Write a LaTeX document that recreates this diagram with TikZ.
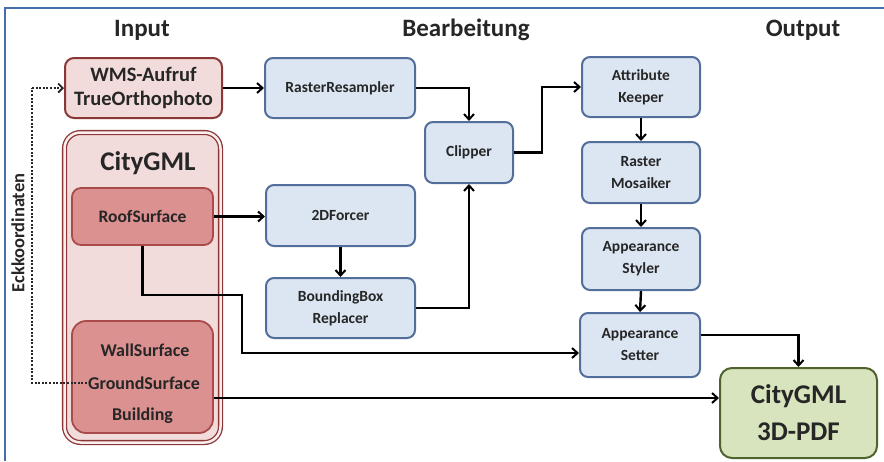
\documentclass[tikz,border=0pt]{standalone}
\usepackage{fontspec}
\setmainfont{Carlito}
\usetikzlibrary{arrows.meta,calc}
\definecolor{fillblue}{RGB}{220,230,242}
\definecolor{boxblue}{RGB}{84,110,155}
\definecolor{pinkfill}{RGB}{242,220,219}
\definecolor{darkred}{RGB}{140,55,55}
\definecolor{rooffill}{RGB}{220,145,145}
\definecolor{roofdraw}{RGB}{170,75,75}
\definecolor{greenfill}{RGB}{215,228,189}
\definecolor{greendraw}{RGB}{80,98,45}
\definecolor{txt}{RGB}{38,38,38}
\definecolor{framecol}{RGB}{70,110,170}
\begin{document}
\begin{tikzpicture}[x=1pt,y=-1pt,
  bluebox/.style={draw=boxblue,fill=fillblue,line width=2pt,rounded corners=8pt,align=center,inner sep=0pt,text=txt,font=\bfseries\fontsize{15.5}{22}\selectfont},
  pinkbox/.style={draw=darkred,fill=pinkfill,line width=2pt,rounded corners=9pt,align=center,inner sep=0pt,text=txt,font=\bfseries\fontsize{20.5}{24}\selectfont},
  roofbox/.style={draw=roofdraw,fill=rooffill,line width=1.8pt,rounded corners=9pt,align=center,inner sep=0pt,text=txt,font=\bfseries\fontsize{17.5}{20}\selectfont},
  lbl/.style={text=txt,font=\bfseries\fontsize{18}{20}\selectfont,inner sep=1pt},
  title/.style={text=txt,font=\bfseries\fontsize{25}{28}\selectfont},
  arr/.style={draw=black,line width=2.4pt,-{Straight Barb[length=5.5pt,width=10pt,line width=2pt]}},
  dotline/.style={draw=txt,line width=2pt,dash pattern=on 2pt off 1.6pt}
]
\useasboundingbox (0,0) rectangle (884,461);
\draw[framecol,line width=1.2pt] (5,461) -- (5,8) -- (884,8);

\node[title] (tin) at (142,30) {Input};
\node[title] (tbe) at (466,30) {Bearbeitung};
\node[title] (tout) at (803,30) {Output};

% input
\node[pinkbox,minimum width=157pt,minimum height=60pt] (wms) at (143.5,88) {WMS-Aufruf\\TrueOrthophoto};
\node[draw=darkred,fill=pinkfill,line width=1.3pt,double=white!55!pinkfill,double distance=2.5pt,rounded corners=16pt,minimum width=156pt,minimum height=310pt,inner sep=0pt] (city) at (142.5,287.5) {};
\node[text=txt,font=\bfseries\fontsize{27}{30}\selectfont] (cityt) at (148,163) {CityGML};
\node[roofbox,minimum width=141pt,minimum height=57pt] (roof) at (142.5,216.5) {RoofSurface};
\node[roofbox,minimum width=141pt,minimum height=112pt,rounded corners=14pt] (wall) at (142.5,377) {};
\node[lbl] (ws) at (145,350) {WallSurface};
\node[lbl] (gs) at (144,383) {GroundSurface};
\node[lbl] (bu) at (142.5,416) {Building};

% processing
\node[bluebox,minimum width=150pt,minimum height=60pt] (rr) at (340,88) {RasterResampler};
\node[bluebox,minimum width=88pt,minimum height=61pt] (clip) at (469,152.5) {Clipper};
\node[bluebox,minimum width=149pt,minimum height=61pt] (f2d) at (340.5,215.5) {2DForcer};
\node[bluebox,minimum width=149pt,minimum height=60pt] (bbr) at (340.5,308) {BoundingBox\\Replacer};

% output column
\node[bluebox,minimum width=118pt,minimum height=60pt] (ak) at (641,87) {Attribute\\Keeper};
\node[bluebox,minimum width=118pt,minimum height=61pt] (rm) at (641,172.5) {Raster\\Mosaiker};
\node[bluebox,minimum width=118pt,minimum height=62pt] (as) at (641,259) {Appearance\\Styler};
\node[bluebox,minimum width=120pt,minimum height=64pt] (ase) at (640,345) {Appearance\\Setter};
\node[draw=greendraw,fill=greenfill,line width=2pt,rounded corners=12pt,minimum width=157pt,minimum height=90pt,inner sep=0pt,align=center,text=txt,font=\bfseries\fontsize{27}{37}\selectfont] (out) at (798.5,413) {CityGML\\3D-PDF};

% label
\node[rotate=90,text=txt,font=\bfseries\fontsize{18.5}{20}\selectfont] (eck) at (18,233) {Eckkoordinaten};

% connectors
\coordinate (d2) at (32,88);
\draw[dotline] (gs.west) -| (d2);
\draw[dotline,-{Straight Barb[length=4.5pt,width=9pt,line width=1.8pt]}] (d2) -- (wms.west);

\draw[arr] (wms.east) -- (rr.west);
\draw[arr] (rr.east) -| (clip.north);
\draw[arr] (roof.east) -- (roof.east -| f2d.west);
\draw[arr] (f2d.south) -- (bbr.north);
\draw[arr] (bbr.east) -| (clip.south);
\coordinate (k1) at (542,152.5);
\draw[arr] (clip.east) -- (k1) |- (ak.west);
\draw[arr] (ak.south) -- (rm.north);
\draw[arr] (rm.south) -- (as.north);
\draw[arr] (as.south) -- (ase.north);
\coordinate (r1) at (142.5,295);
\coordinate (r2) at (242,353);
\draw[arr] (roof.south) -- (r1) -| (r2) -- (r2 -| ase.west);
\draw[arr] ([yshift=10pt]ase.east) -| (out.north);
\draw[arr] ([yshift=-21pt]wall.east) -- ([yshift=-21pt]wall.east -| out.west);
\end{tikzpicture}
\end{document}
